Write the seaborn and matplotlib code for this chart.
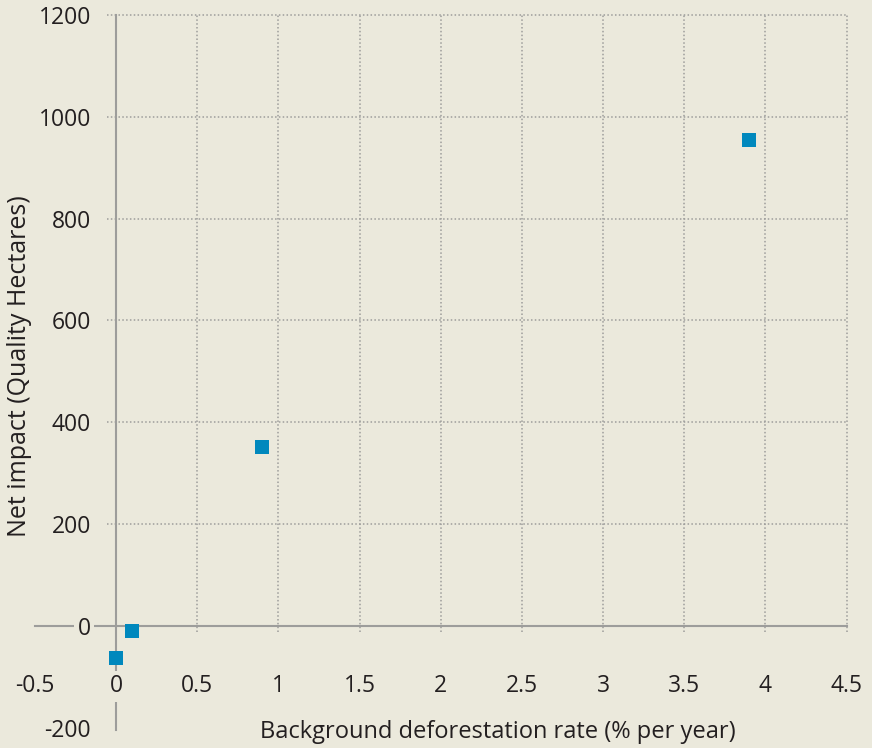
import numpy as np
import pandas as pd
import matplotlib
matplotlib.use("Agg")
import matplotlib.pyplot as plt
from matplotlib.ticker import FuncFormatter
import seaborn as sns

# data
deforestation_rate = [0.0, 0.1, 0.9, 3.9]
net_impact = [-63, -10, 352, 955]
x_ticks = [-0.5, 0, 0.5, 1, 1.5, 2, 2.5, 3, 3.5, 4, 4.5]
y_ticks = [-200, 0, 200, 400, 600, 800, 1000, 1200]

bg = "#ebe9dc"
axis_grey = "#9d9d9b"
text_col = "#231f20"
point_col = "#0088bd"

sns.set_theme(style="white")
plt.rcParams["font.family"] = ["Open Sans", "DejaVu Sans"]

df = pd.DataFrame({"rate": deforestation_rate, "impact": net_impact})

fig = plt.figure(figsize=(8.72, 7.48), dpi=100, facecolor=bg)
ax = fig.add_axes([0, 0, 1, 1])
ax.set_facecolor(bg)

ax.set_xlim(-0.714, 4.656)
ax.set_ylim(-240, 1229.5)

# dotted grid, only inside the positive quadrant
ax.hlines(y_ticks[2:], -0.056, 4.5, colors=axis_grey, linestyles=(0, (1, 1.5)),
          linewidth=1.1, zorder=0.2)
ax.vlines(x_ticks[2:], -12, 1200, colors=axis_grey, linestyles=(0, (1, 1.5)),
          linewidth=1.1, zorder=0.2)

sns.scatterplot(data=df, x="rate", y="impact", marker="s", s=105, color=point_col,
                edgecolor="none", linewidth=0, ax=ax, zorder=3)

# axes crossing at the origin
for side in ["top", "right"]:
    ax.spines[side].set_visible(False)
ax.spines["left"].set_position(("data", 0))
ax.spines["bottom"].set_position(("data", 0))
ax.spines["left"].set_bounds(-205, 1200)
ax.spines["bottom"].set_bounds(-0.5, 4.5)
for side in ["left", "bottom"]:
    ax.spines[side].set_color(axis_grey)
    ax.spines[side].set_linewidth(1.5)
    ax.spines[side].set_zorder(0.3)

ax.set_xticks(x_ticks)
ax.set_yticks(y_ticks)
ax.xaxis.set_major_formatter(FuncFormatter(lambda v, p: f"{v:g}"))
ax.yaxis.set_major_formatter(FuncFormatter(lambda v, p: f"{v:g}"))
ax.tick_params(axis="x", length=0, pad=35, labelsize=16.5, labelcolor=text_col)
ax.tick_params(axis="y", length=0, pad=18, labelsize=16.5, labelcolor=text_col)
ax.xaxis.set_zorder(0.5)
ax.yaxis.set_zorder(0.5)
for lab in ax.get_xticklabels() + ax.get_yticklabels():
    lab.set_bbox(dict(facecolor=bg, edgecolor="none", pad=2.5))

ax.set_xlabel("Background deforestation rate (% per year)", fontsize=17, color=text_col,
              va="center")
ax.set_ylabel("Net impact (Quality Hectares)", fontsize=18, color=text_col, va="center")
ax.xaxis.set_label_coords(0.571, 0.021)
ax.yaxis.set_label_coords(0.022, 0.511)

fig.savefig("out.png", dpi=100, facecolor=bg)
